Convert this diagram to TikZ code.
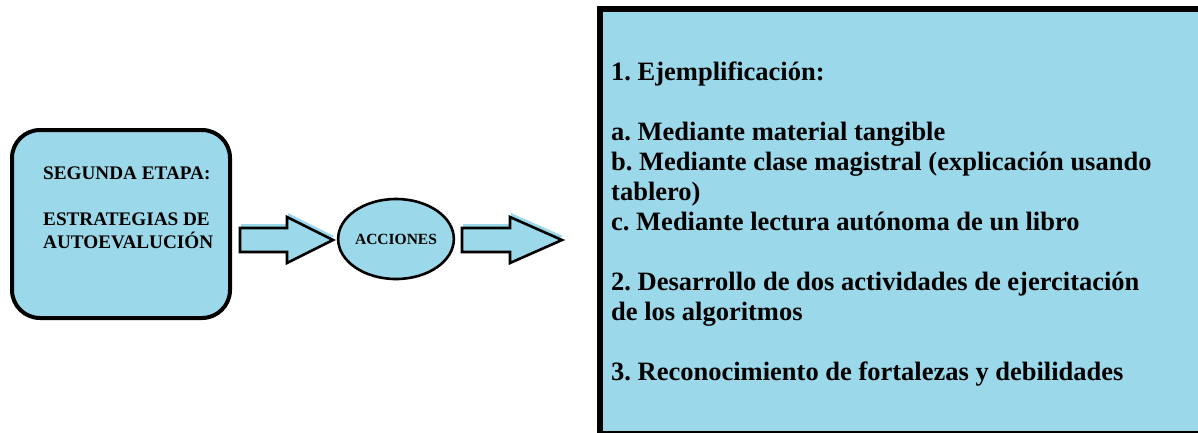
\documentclass[tikz,border=0pt]{standalone}
\usepackage{fontspec}
\setmainfont{Liberation Serif}
\usetikzlibrary{shapes.geometric}
\definecolor{celeste}{RGB}{155,216,233}
\frenchspacing
\tikzset{
  etapa/.style={draw,line width=4pt,fill=celeste,rounded corners=28pt,
    minimum width=218pt,minimum height=188pt},
  accion/.style={ellipse,draw,line width=2.6pt,fill=celeste,
    minimum width=106pt,minimum height=80pt,inner sep=0pt,
    font=\fontsize{15.5}{18}\selectfont\bfseries},
  borde/.style={draw,line width=2.6pt,fill=celeste,line join=miter},
  % block arrow: #1 shaft length, #2 total length
  pics/flecha/.style n args={2}{code={
    \fill[celeste] (1,-16) -- (#1+1,-16) -- (#1+1,-27) -- (#2+1,-4)
      -- (#1+1,19) -- (#1+1,8) -- (1,8) -- cycle;
    \path[borde] (0,-12) -- (#1,-12) -- (#1,-23) -- (#2,0)
      -- (#1,23) -- (#1,12) -- (0,12) -- cycle;
  }}
}
\begin{document}
\begin{tikzpicture}[x=1pt,y=-1pt]
\useasboundingbox (0,0) rectangle (1198,432);
\clip (0,0) rectangle (1198,432);
%
\node[etapa] (etapa) at (121,224) {};
% base anchor = last line
\node[anchor=base west,align=left,inner sep=0pt,
  font=\fontsize{19.2}{23}\selectfont\bfseries] (etapatxt) at (43,248)
  {SEGUNDA ETAPA:\\[23pt]ESTRATEGIAS DE\\AUTOEVALUCIÓN};
%
\node[accion] (acciones) at (396,239) {ACCIONES};
%
\draw[line width=5.5pt,fill=celeste] (600,9) rectangle (1215,434);
\node[anchor=base west,align=left,inner sep=0pt,
  font=\fontsize{26.5}{30}\selectfont\bfseries] (lista) at (611,380)
  {1. Ejemplificación:\\[30pt]
   a. Mediante material tangible\\
   b. Mediante clase magistral (explicación usando\\
   tablero)\\
   c. Mediante lectura autónoma de un libro\\[30pt]
   2. Desarrollo de dos actividades de ejercitación\\
   de los algoritmos\\[30pt]
   3. Reconocimiento de fortalezas y debilidades};
%
\pic at (240,240) {flecha={47}{93}};
\pic at (462,240) {flecha={48}{100}};
\end{tikzpicture}
\end{document}
